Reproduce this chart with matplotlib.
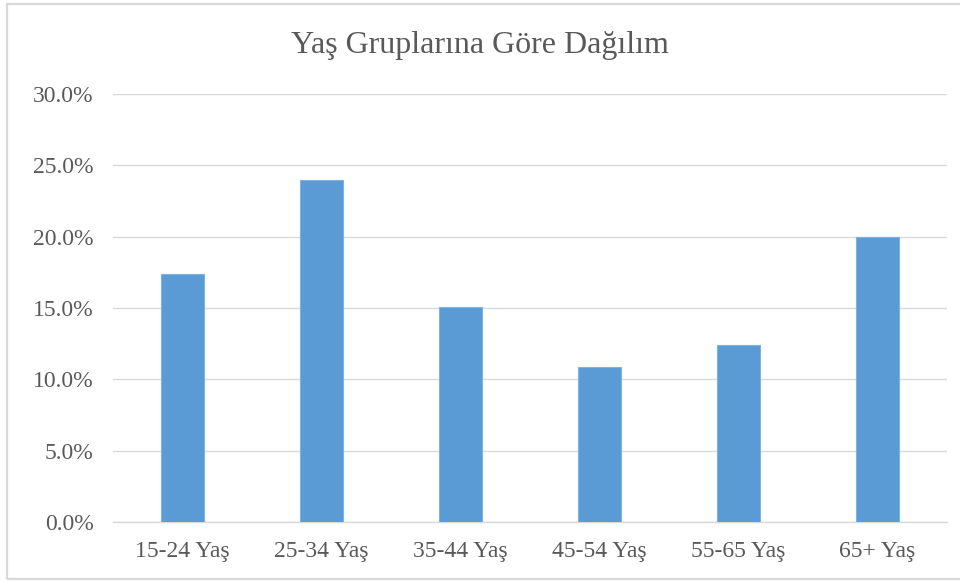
import matplotlib.pyplot as plt
from matplotlib.patches import Rectangle
from matplotlib.ticker import FuncFormatter

plt.rcParams['font.family'] = ['Liberation Serif', 'DejaVu Serif']

# Veriler
gruplar = ['15-24 Yaş', '25-34 Yaş', '35-44 Yaş', '45-54 Yaş', '55-65 Yaş', '65+ Yaş']
oranlar = [17.4, 24.0, 15.1, 10.9, 12.4, 20.0]
y_ticks = [0, 5, 10, 15, 20, 25, 30]

fig = plt.figure(figsize=(9.6, 5.81), dpi=100)
ax = fig.add_axes([0.1177, 0.1015, 0.8688, 0.7365])

ax.bar(range(len(gruplar)), oranlar, width=0.31, color='#5B9BD5',
       edgecolor='#7FB2E0', linewidth=0.8, zorder=3)

ax.set_xlim(-0.5, len(gruplar) - 0.5)
ax.set_ylim(0, 30)
ax.set_yticks(y_ticks)
ax.yaxis.set_major_formatter(FuncFormatter(lambda v, p: f'{v:.1f}%'))
ax.set_xticks(range(len(gruplar)))
ax.set_xticklabels(gruplar)

ax.grid(axis='y', color='#D9D9D9', linewidth=1, zorder=0)
for s in ['top', 'right', 'left']:
    ax.spines[s].set_visible(False)
ax.spines['bottom'].set_color('#D9D9D9')
ax.spines['bottom'].set_linewidth(1)
ax.tick_params(axis='both', length=0, labelsize=17, colors='#595959')
ax.tick_params(axis='y', pad=14)
ax.tick_params(axis='x', pad=14)

fig.text(0.5, 0.922, 'Yaş Gruplarına Göre Dağılım', ha='center', va='center',
         fontsize=23, color='#595959')

# Dış çerçeve (sağ kenar görüntünün dışında)
fig.patches.append(Rectangle((0.0075, 0.003), 1.0, 0.99, transform=fig.transFigure,
                             fill=False, edgecolor='#D9D9D9', linewidth=1.6))

fig.savefig('out.png', dpi=100)
